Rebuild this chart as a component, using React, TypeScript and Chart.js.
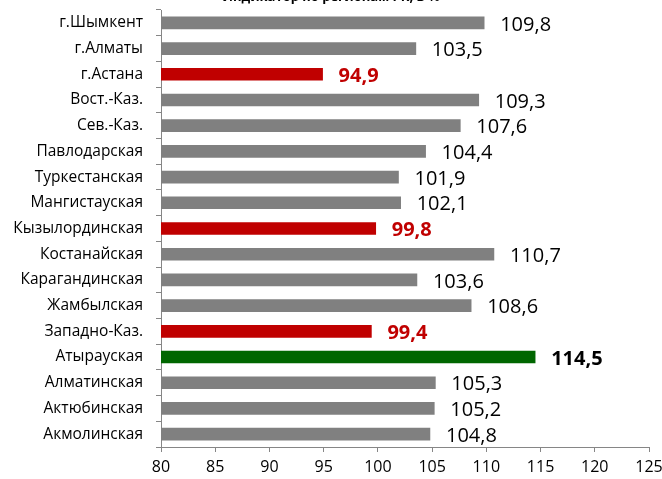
import React, { useEffect, useRef } from "react";
import { Chart, registerables } from "chart.js";

Chart.register(...registerables);

const TITLE = "Индикатор по регионам РК, в %";

const regions: string[] = [
  "г.Шымкент",
  "г.Алматы",
  "г.Астана",
  "Вост.-Каз.",
  "Сев.-Каз.",
  "Павлодарская",
  "Туркестанская",
  "Мангистауская",
  "Кызылординская",
  "Костанайская",
  "Карагандинская",
  "Жамбылская",
  "Западно-Каз.",
  "Атырауская",
  "Алматинская",
  "Актюбинская",
  "Акмолинская",
];

const values: number[] = [
  109.8, 103.5, 94.9, 109.3, 107.6, 104.4, 101.9, 102.1, 99.8, 110.7, 103.6,
  108.6, 99.4, 114.5, 105.3, 105.2, 104.8,
];

const axisMin = 80;
const axisMax = 125;
const axisStep = 5;

const GRAY = "#808080";
const RED = "#C00000";
const GREEN = "#006600";
const AXIS = "#868686";
const FONT = "'Open Sans', 'DejaVu Sans', sans-serif";

const maxValue = Math.max(...values);
const barColors = values.map((v) => (v < 100 ? RED : v === maxValue ? GREEN : GRAY));

const fmt = (v: number) => v.toFixed(1).replace(".", ",");

const TITLE_LINE = 26;
const SHIFT = TITLE_LINE - 10;

export default function App() {
  const ref = useRef<HTMLCanvasElement | null>(null);

  useEffect(() => {
    document.body.style.margin = "0";
    const canvas = ref.current;
    if (!canvas) return;

    const labelPlugin = {
      id: "valueLabels",
      afterDatasetsDraw(chart: any) {
        const ctx = chart.ctx;
        const meta = chart.getDatasetMeta(0);
        ctx.save();
        ctx.textAlign = "left";
        ctx.textBaseline = "middle";
        meta.data.forEach((bar: any, i: number) => {
          const v = values[i];
          const isRed = v < 100;
          const isMax = v === maxValue;
          ctx.font = `${isRed || isMax ? "bold " : ""}20px ${FONT}`;
          ctx.fillStyle = isRed ? RED : "#000000";
          ctx.fillText(fmt(v), bar.x + 16, bar.y + 2);
        });
        ctx.restore();
      },
    };

    const chart = new Chart(canvas, {
      type: "bar",
      data: {
        labels: regions,
        datasets: [
          {
            data: values,
            backgroundColor: barColors,
            borderWidth: 0,
            barThickness: 12,
          },
        ],
      },
      options: {
        indexAxis: "y",
        responsive: false,
        animation: false,
        layout: { padding: { left: 0, right: 0, top: 0, bottom: 0 } },
        plugins: {
          legend: { display: false },
          tooltip: { enabled: false },
          title: {
            display: true,
            text: TITLE,
            color: "#000000",
            font: { family: FONT, size: 13, weight: "bold", lineHeight: TITLE_LINE / 13 },
            padding: { top: 0, bottom: 0 },
          },
        },
        scales: {
          x: {
            type: "linear",
            min: axisMin,
            max: axisMax,
            ticks: {
              stepSize: axisStep,
              color: "#000000",
              font: { family: FONT, size: 16 },
              padding: 6,
              maxRotation: 0,
              callback: (v: any) => String(v),
            },
            grid: {
              drawOnChartArea: false,
              drawTicks: true,
              tickLength: 5,
              color: AXIS,
            },
            border: { display: true, color: AXIS, width: 1 },
            afterFit: (scale: any) => {
              scale.height = 32;
              scale.paddingRight = 13;
            },
          },
          y: {
            type: "category",
            offset: true,
            ticks: {
              color: "#000000",
              font: { family: FONT, size: 15.5 },
              padding: 13,
              autoSkip: false,
            },
            grid: {
              offset: true,
              drawOnChartArea: false,
              drawTicks: true,
              tickLength: 5,
              color: AXIS,
            },
            border: { display: true, color: AXIS, width: 1 },
            afterFit: (scale: any) => {
              scale.width = 161;
            },
          },
        },
      },
      plugins: [labelPlugin],
    } as any);

    return () => chart.destroy();
  }, []);

  return (
    <div
      style={{
        position: "fixed",
        left: 0,
        top: 0,
        width: 662,
        height: 479,
        overflow: "hidden",
        background: "#ffffff",
      }}
    >
      <canvas
        ref={ref}
        width={662}
        height={479 + SHIFT}
        style={{ position: "absolute", left: 0, top: -SHIFT, width: 662, height: 479 + SHIFT }}
      />
    </div>
  );
}
